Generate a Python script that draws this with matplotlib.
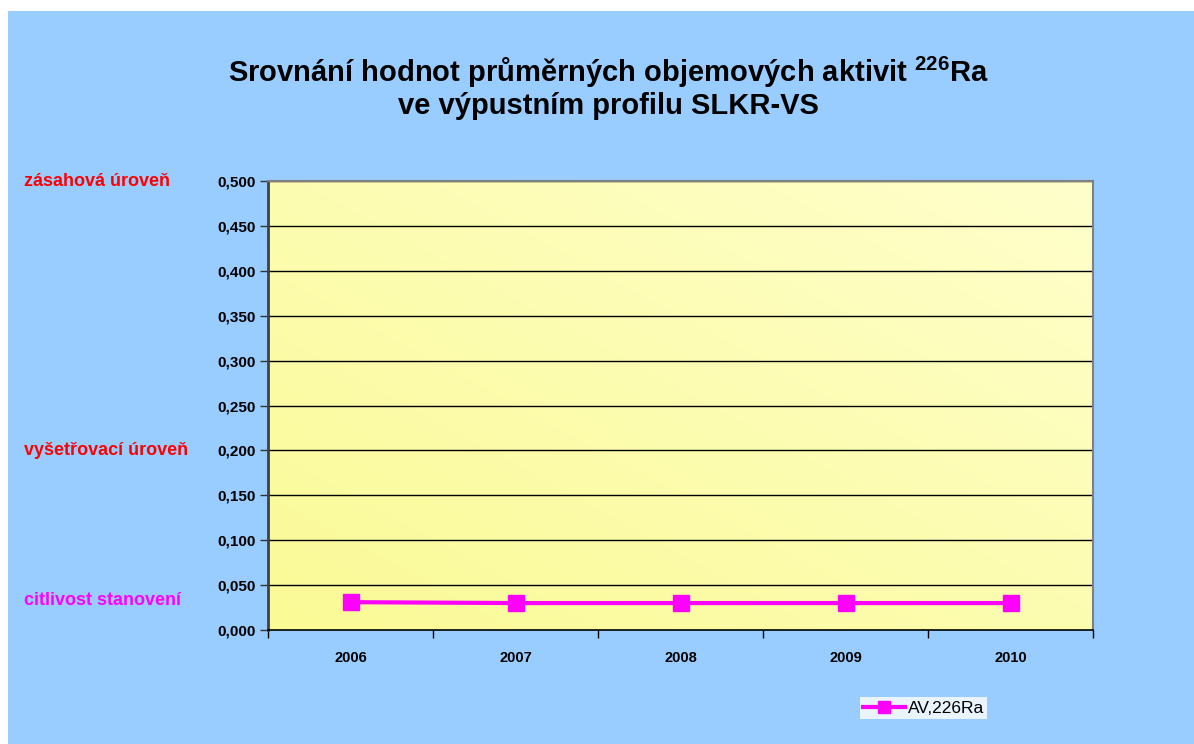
import matplotlib
matplotlib.use("Agg")
import matplotlib.pyplot as plt
import matplotlib.transforms as mtransforms
from matplotlib.patches import Rectangle
import numpy as np

plt.rcParams['font.family'] = ['Liberation Sans', 'DejaVu Sans']
plt.rcParams['mathtext.fontset'] = 'custom'
plt.rcParams['mathtext.rm'] = 'Liberation Sans'
plt.rcParams['mathtext.bf'] = 'Liberation Sans:bold'

years = ["2006", "2007", "2008", "2009", "2010"]
av_ra226 = [0.031, 0.030, 0.030, 0.030, 0.030]
y_ticks = [0.0, 0.05, 0.10, 0.15, 0.20, 0.25, 0.30, 0.35, 0.40, 0.45, 0.50]
level_labels = ["zásahová úroveň", "vyšetřovací úroveň", "citlivost stanovení"]
level_values = [0.50, 0.20, 0.033]
level_colors = ["#FF0000", "#FF0000", "#FF00FF"]
series_name = "AV,226Ra"

W, H = 1194, 744
fig = plt.figure(figsize=(W / 100, H / 100), dpi=100)
fig.patch.set_facecolor("white")
fig.patches.append(Rectangle((8 / W, 0), 1 - 8 / W, 1 - 11 / H, transform=fig.transFigure,
                             facecolor="#99CCFF", edgecolor="none", zorder=0))

ax = fig.add_axes([268 / W, 1 - 630 / H, (1093 - 268) / W, (630 - 181) / H])
ax.set_zorder(2)

# diagonal gradient fill of the plot area: pale at top right, deeper yellow at bottom left
gx, gy = np.meshgrid(np.linspace(0, 1, 200), np.linspace(0, 1, 200))
t = np.clip((gx + gy) / 2.0, 0, 1)
c0 = np.array([0xFA, 0xFA, 0x96]) / 255.0
c1 = np.array([0xFF, 0xFF, 0xCC]) / 255.0
img = c0[None, None, :] * (1 - t[..., None]) + c1[None, None, :] * t[..., None]
ax.imshow(img, extent=[0, 1, 0, 1], origin="lower", transform=ax.transAxes,
          aspect="auto", zorder=0, interpolation="bilinear")

x = np.arange(len(years))
ax.set_xlim(-0.5, len(years) - 0.5)
ax.set_ylim(0, 0.5)

ax.set_yticks(y_ticks)
ax.set_yticklabels([f"{v:.3f}".replace(".", ",") for v in y_ticks],
                   fontsize=11, fontweight="bold")
for v in y_ticks[1:]:
    ax.axhline(v, color="black", lw=1.0, zorder=1)

ax.set_xticks(x)
ax.set_xticklabels(years, fontsize=10.5, fontweight="bold")
ax.tick_params(axis="x", length=0, pad=15)
ax.set_xticks(np.arange(-0.5, len(years), 1.0), minor=True)
ax.tick_params(axis="x", which="minor", length=6, width=1, direction="out", color="black")
ax.tick_params(axis="y", length=6, width=1, direction="out", color="#333333", pad=3)

for s in ["top", "right"]:
    ax.spines[s].set_color("#808080")
    ax.spines[s].set_linewidth(1.5)
ax.spines["left"].set_color("#404040")
ax.spines["left"].set_linewidth(2)
ax.spines["bottom"].set_color("black")
ax.spines["bottom"].set_linewidth(1.2)

line, = ax.plot(x, av_ra226, color="#FF00FF", lw=3, marker="s", markersize=12,
                markeredgecolor="#FF00FF", zorder=3, label=series_name)

trans = mtransforms.blended_transform_factory(fig.transFigure, ax.transData)
for lab, val, col in zip(level_labels, level_values, level_colors):
    ax.text(24 / W, val, lab, transform=trans, color=col, fontsize=13,
            fontweight="bold", ha="left", va="center", clip_on=False)

fig.text(608 / W, 1 - 72 / H,
         r"Srovnání hodnot průměrných objemových aktivit $\mathbf{^{226}}$Ra",
         ha="center", va="center", fontsize=21, fontweight="bold")
fig.text(608 / W, 1 - 106 / H, "ve výpustním profilu SLKR-VS",
         ha="center", va="center", fontsize=21, fontweight="bold")

leg = fig.legend(handles=[line], loc="center left",
                 bbox_to_anchor=(860 / W, 1 - 708 / H), frameon=True, fontsize=12.5,
                 handlelength=2.4, handletextpad=0.15, borderpad=0.2,
                 borderaxespad=0, fancybox=False, markerscale=0.75)
leg.get_frame().set_facecolor("white")
leg.get_frame().set_edgecolor("white")
leg.get_frame().set_linewidth(0)

fig.savefig("out.png", dpi=100)
